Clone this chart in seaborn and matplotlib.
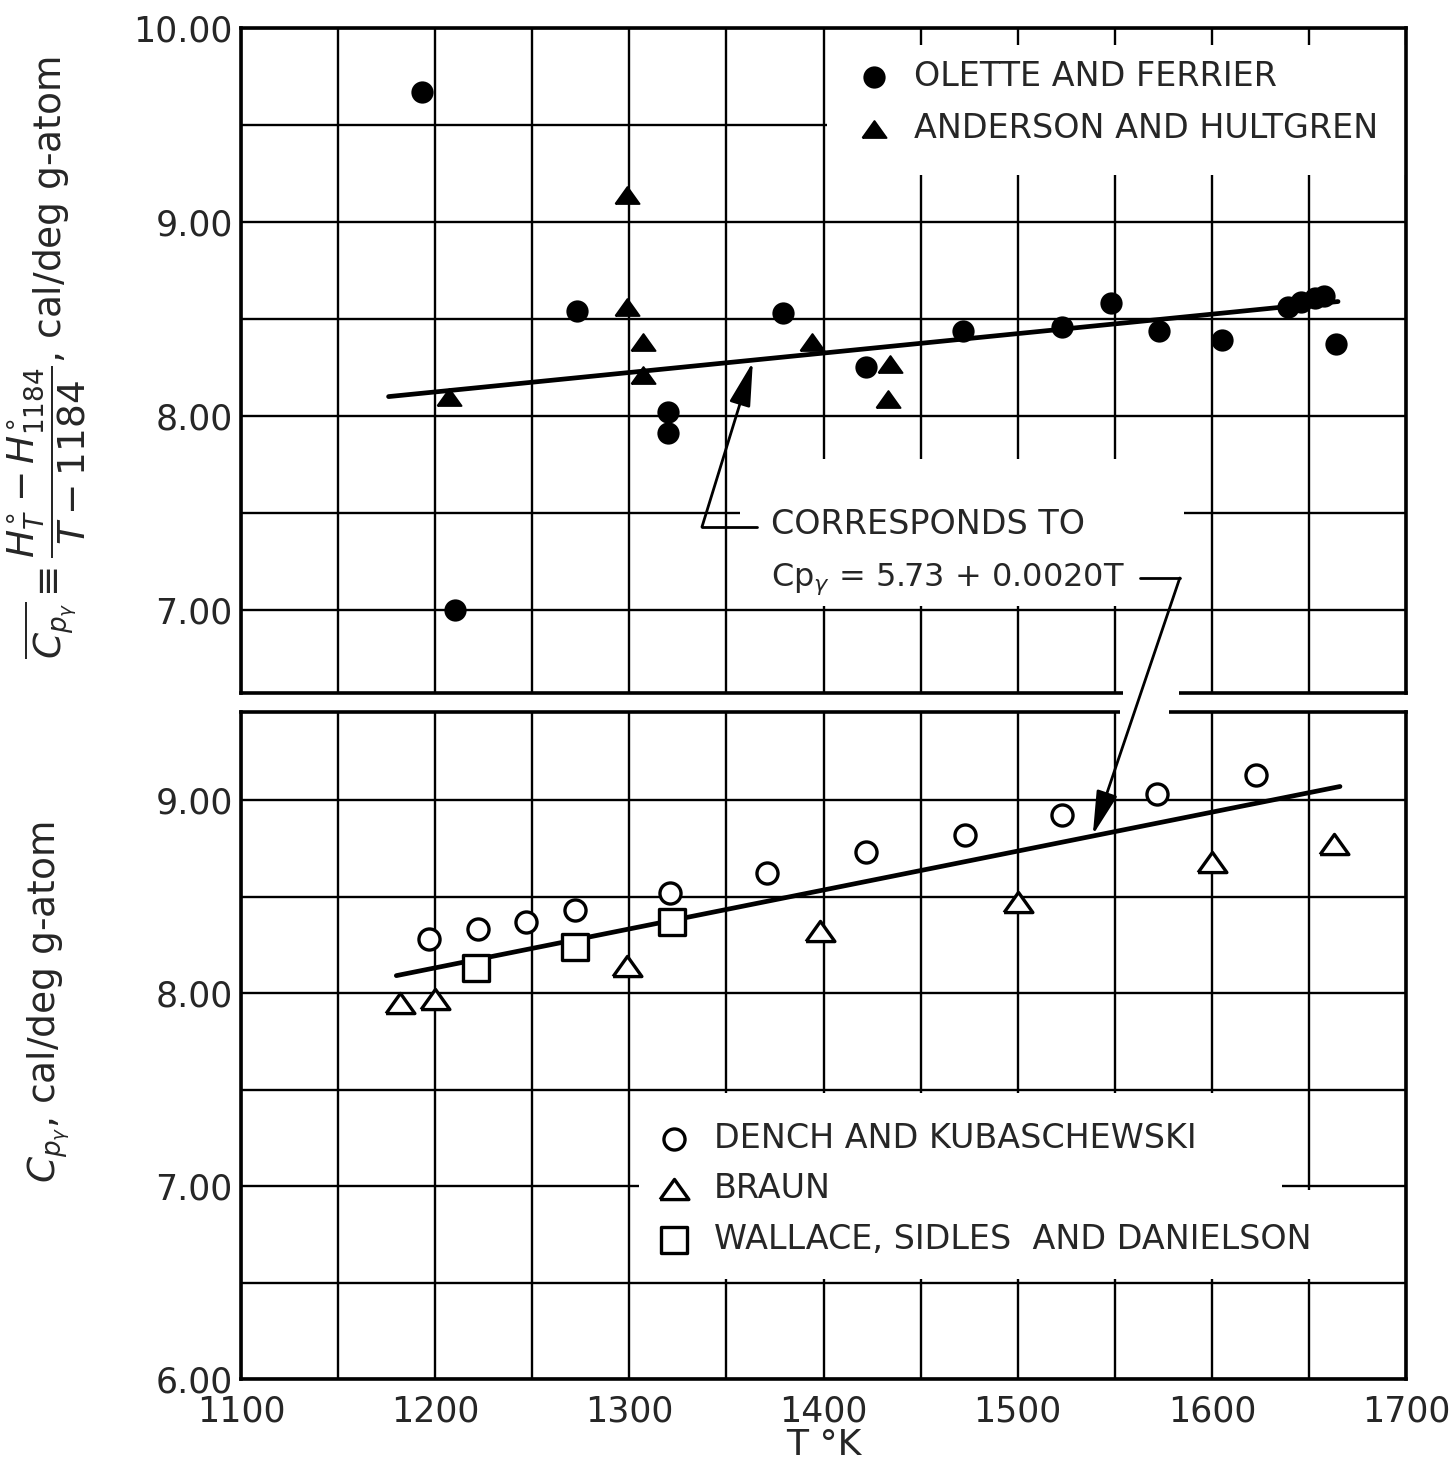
import matplotlib
matplotlib.use("Agg")
import matplotlib.pyplot as plt
import seaborn as sns
from matplotlib import font_manager
from matplotlib.patches import Rectangle, ConnectionPatch

# Top panel: mean heat capacity (H_T - H_1184)/(T - 1184)
olette_T = [1193, 1210, 1273, 1320, 1320, 1379, 1422, 1472, 1523, 1548, 1573, 1605, 1639, 1646, 1653, 1658, 1664]
olette_cp = [9.67, 7.00, 8.54, 8.02, 7.91, 8.53, 8.25, 8.44, 8.46, 8.58, 8.44, 8.39, 8.56, 8.59, 8.61, 8.62, 8.37]
anderson_T = [1207, 1299, 1299, 1307, 1307, 1394, 1434, 1433]
anderson_cp = [8.10, 9.14, 8.56, 8.38, 8.21, 8.38, 8.27, 8.09]
top_fit_T = [1176, 1665]
top_fit_cp = [8.10, 8.59]

# Bottom panel: heat capacity
dench_T = [1197, 1222, 1247, 1272, 1321, 1371, 1422, 1473, 1523, 1572, 1623]
dench_cp = [8.28, 8.33, 8.37, 8.43, 8.52, 8.62, 8.73, 8.82, 8.92, 9.03, 9.13]
braun_T = [1182, 1200, 1299, 1398, 1500, 1600, 1663]
braun_cp = [7.95, 7.97, 8.14, 8.32, 8.47, 8.68, 8.77]
wallace_T = [1221, 1272, 1322]
wallace_cp = [8.13, 8.24, 8.37]
bot_fit_T = [1180, 1666]
bot_fit_cp = [8.09, 9.07]

x_ticks = [1100, 1200, 1300, 1400, 1500, 1600, 1700]

sns.set_style("white")
plt.rcParams["font.family"] = ["DejaVu Sans"]
plt.rcParams["mathtext.fontset"] = "dejavusans"

# narrow face for the tick numbers if it is there
names = {f.name for f in font_manager.fontManager.ttflist}
if "Liberation Sans Narrow" in names:
    tick_font, tick_size = "Liberation Sans Narrow", 32
else:
    tick_font, tick_size = "DejaVu Sans", 25

W, H = 1449, 1471
fig = plt.figure(figsize=(W / 100, H / 100), dpi=100)
ax_top = fig.add_axes([241 / W, 1 - 693 / H, 1165 / W, 665 / H])
ax_bot = fig.add_axes([241 / W, 1 - 1379 / H, 1165 / W, 667 / H])

tri = [(-1, -0.7), (1, -0.7), (0, 0.7), (-1, -0.7)]

# fitted lines
sns.lineplot(x=top_fit_T, y=top_fit_cp, color="black", lw=3.4, ax=ax_top, zorder=2)
sns.lineplot(x=bot_fit_T, y=bot_fit_cp, color="black", lw=3.4, ax=ax_bot, zorder=2)

# data points
sns.scatterplot(x=olette_T, y=olette_cp, marker="o", s=220, color="black",
                edgecolor="black", ax=ax_top, zorder=3, label="OLETTE AND FERRIER")
sns.scatterplot(x=anderson_T, y=anderson_cp, marker=tri, s=300, color="black",
                edgecolor="black", ax=ax_top, zorder=3, label="ANDERSON AND HULTGREN")

sns.scatterplot(x=dench_T, y=dench_cp, marker="o", s=230, facecolor="white",
                edgecolor="black", linewidth=2.4, ax=ax_bot, zorder=3,
                label="DENCH AND KUBASCHEWSKI")
sns.scatterplot(x=braun_T, y=braun_cp, marker=tri, s=430, facecolor="white",
                edgecolor="black", linewidth=2.4, ax=ax_bot, zorder=3, label="BRAUN")
sns.scatterplot(x=wallace_T, y=wallace_cp, marker="s", s=330, facecolor="white",
                edgecolor="black", linewidth=2.4, ax=ax_bot, zorder=3,
                label="WALLACE, SIDLES  AND DANIELSON")

for ax, ylim, yt, ym in [
    (ax_top, (10 - 665 / 194, 10.0), [7, 8, 9, 10], [7.5, 8.5, 9.5]),
    (ax_bot, (6.0, 6 + 667 / 193), [6, 7, 8, 9], [6.5, 7.5, 8.5]),
]:
    ax.set_xlim(1100, 1700)
    ax.set_ylim(*ylim)
    ax.set_xticks(x_ticks)
    ax.set_xticks([1150, 1250, 1350, 1450, 1550, 1650], minor=True)
    ax.set_xticklabels([str(v) for v in x_ticks], fontfamily=tick_font, fontsize=tick_size)
    ax.set_yticks(yt)
    ax.set_yticks(ym, minor=True)
    ax.set_yticklabels([f"{v:.2f}" for v in yt], fontfamily=tick_font, fontsize=tick_size)
    ax.set_axisbelow(True)
    ax.grid(which="both", color="black", lw=1.7)
    ax.tick_params(which="both", length=0, pad=6)
    for sp in ax.spines.values():
        sp.set_color("black")
        sp.set_linewidth(2.6)
    ax.set_xlabel("")
    ax.set_ylabel("")

ax_top.tick_params(axis="x", labelbottom=False)
ax_bot.tick_params(axis="x", pad=11)

# white boxes breaking the grid behind the labels
for ax, (x0, y0, x1, y1) in [
    (ax_top, (1402, 9.24, 1700, 9.91)),
    (ax_top, (1357, 7.02, 1585.5, 7.78)),
    (ax_bot, (1305, 6.52, 1636, 7.48)),
    (ax_bot, (1636, 6.52, 1676, 6.98)),
]:
    ax.add_patch(Rectangle((x0, y0), x1 - x0, y1 - y0, facecolor="white",
                           edgecolor="none", zorder=1))

# legends
ax_top.legend(loc="upper left", bbox_to_anchor=(0.529, 0.952), frameon=False,
              fontsize=24, handlelength=1.0, handletextpad=0.7,
              labelspacing=0.56, borderpad=0, borderaxespad=0)
ax_bot.legend(loc="upper left", bbox_to_anchor=(0.357, 0.386), frameon=False,
              fontsize=24, handlelength=1.0, handletextpad=0.7,
              labelspacing=0.53, borderpad=0, borderaxespad=0)

# axis labels
ax_top.set_ylabel(r"$\overline{C_{p_{\gamma}}}\equiv\dfrac{H^{\circ}_{T}-H^{\circ}_{1184}}{T-1184}$, cal/deg g-atom",
                  fontsize=27)
ax_top.yaxis.set_label_coords(-0.131, 0.505)
ax_bot.set_ylabel(r"$C_{p_{\gamma}}$, cal/deg g-atom", fontsize=27)
ax_bot.yaxis.set_label_coords(-0.145, 0.565)
ax_bot.set_xlabel("T °K", fontsize=26, labelpad=0)

# annotation text
ax_top.text(1373, 7.443, "CORRESPONDS TO", fontsize=24, ha="left", va="center", zorder=4)
ax_top.text(1373, 7.16, r"Cp$_{\gamma}$ = 5.73 + 0.0020T", fontsize=23, ha="left",
            va="center", zorder=4)

# breaks in the frames where the arrow passes
for x0, x1, y0, y1 in [(1123, 1179, 688, 699), (1120, 1169, 706, 718)]:
    fig.add_artist(Rectangle((x0 / W, 1 - y1 / H), (x1 - x0) / W, (y1 - y0) / H,
                             transform=fig.transFigure, facecolor="white",
                             edgecolor="none", zorder=5))

arrow_style = "-|>,head_length=0.9,head_width=0.22"
# arrow to the top line
ax_top.plot([1365.7, 1337.4], [7.428, 7.428], color="black", lw=2)
ax_top.annotate("", xy=(1363.6, 8.278), xytext=(1337.4, 7.428),
                arrowprops=dict(arrowstyle=arrow_style, color="black", lw=2,
                                mutation_scale=30, shrinkA=0, shrinkB=0))
# arrow to the bottom line
ax_top.plot([1563, 1583.5], [7.165, 7.165], color="black", lw=2)
con = ConnectionPatch(xyA=(1583.5, 7.165), coordsA=ax_top.transData,
                      xyB=(1538.7, 8.819), coordsB=ax_bot.transData,
                      arrowstyle=arrow_style, color="black", lw=2,
                      mutation_scale=30, shrinkA=0, shrinkB=0)
con.set_zorder(6)
fig.add_artist(con)

fig.savefig("out.png", dpi=100, facecolor="white")
